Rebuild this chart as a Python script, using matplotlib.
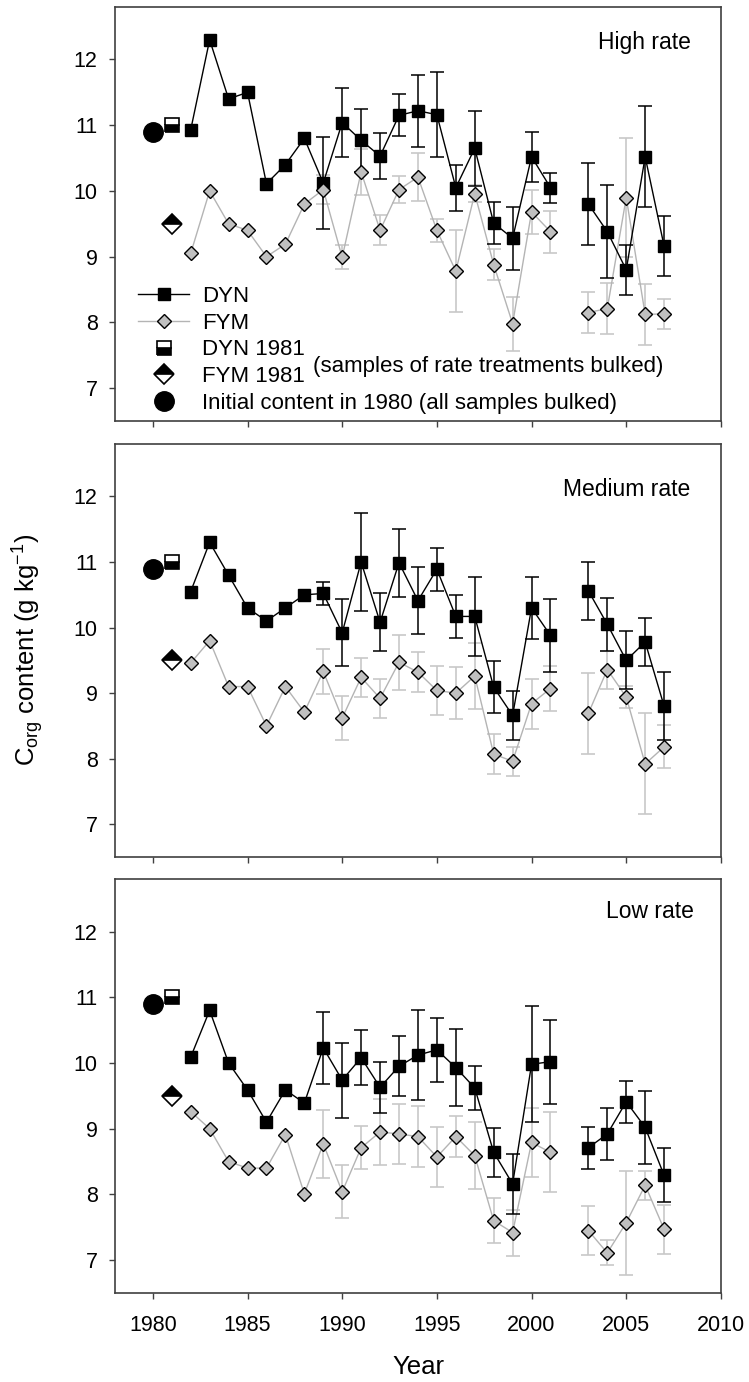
import numpy as np
import matplotlib
matplotlib.use('Agg')
import matplotlib.pyplot as plt
from matplotlib.lines import Line2D

plt.rcParams['font.family'] = ['Liberation Sans', 'DejaVu Sans']
plt.rcParams['mathtext.default'] = 'regular'

nan = np.nan

# sampling years (no sampling in 2002)
years = [1982, 1983, 1984, 1985, 1986, 1987, 1988, 1989, 1990, 1991, 1992, 1993, 1994,
         1995, 1996, 1997, 1998, 1999, 2000, 2001, 2002, 2003, 2004, 2005, 2006, 2007]

# bulked samples
initial_year = 1980
initial_corg = 10.9
bulk_year = 1981
dyn_1981 = 11.0
fym_1981 = 9.5

# High rate
high_dyn = [10.93, 12.30, 11.40, 11.50, 10.11, 10.40, 10.80, 10.12, 11.04, 10.77, 10.53, 11.15, 11.22,
            11.16, 10.05, 10.65, 9.51, 9.28, 10.52, 10.05, nan, 9.80, 9.38, 8.80, 10.52, 9.16]
high_dyn_sd = [nan, nan, nan, nan, nan, nan, nan, 0.70, 0.52, 0.48, 0.35, 0.32, 0.55,
               0.65, 0.35, 0.57, 0.32, 0.48, 0.38, 0.23, nan, 0.63, 0.71, 0.38, 0.77, 0.46]
high_fym = [9.05, 10.00, 9.50, 9.40, 9.00, 9.19, 9.80, 10.02, 8.99, 10.29, 9.40, 10.02, 10.21,
            9.40, 8.78, 9.96, 8.88, 7.98, 9.68, 9.38, nan, 8.15, 8.21, 9.90, 8.12, 8.13]
high_fym_sd = [nan, nan, nan, nan, nan, nan, nan, 0.22, 0.18, 0.35, 0.23, 0.21, 0.36,
               0.18, 0.62, 0.13, 0.24, 0.41, 0.33, 0.32, nan, 0.31, 0.39, 0.90, 0.46, 0.23]

# Medium rate
med_dyn = [10.55, 11.30, 10.80, 10.30, 10.10, 10.30, 10.50, 10.52, 9.92, 11.00, 10.08, 10.99, 10.41,
           10.89, 10.17, 10.17, 9.09, 8.66, 10.30, 9.88, nan, 10.56, 10.05, 9.50, 9.78, 8.80]
med_dyn_sd = [nan, nan, nan, nan, nan, nan, nan, 0.17, 0.51, 0.75, 0.44, 0.52, 0.51,
              0.33, 0.33, 0.60, 0.40, 0.37, 0.47, 0.56, nan, 0.44, 0.40, 0.44, 0.36, 0.52]
med_fym = [9.46, 9.80, 9.10, 9.10, 8.50, 9.10, 8.71, 9.33, 8.62, 9.24, 8.92, 9.47, 9.32,
           9.04, 9.00, 9.26, 8.07, 7.96, 8.84, 9.07, nan, 8.69, 9.36, 8.94, 7.92, 8.18]
med_fym_sd = [nan, nan, nan, nan, nan, nan, nan, 0.34, 0.33, 0.30, 0.30, 0.42, 0.30,
              0.38, 0.40, 0.50, 0.30, 0.22, 0.38, 0.34, nan, 0.62, 0.29, 0.17, 0.77, 0.33]

# Low rate
low_dyn = [10.09, 10.80, 10.00, 9.59, 9.10, 9.59, 9.39, 10.23, 9.74, 10.08, 9.63, 9.95, 10.12,
           10.20, 9.93, 9.62, 8.64, 8.16, 9.98, 10.02, nan, 8.71, 8.92, 9.41, 9.02, 8.29]
low_dyn_sd = [nan, nan, nan, nan, nan, nan, nan, 0.55, 0.57, 0.42, 0.39, 0.46, 0.68,
              0.49, 0.58, 0.34, 0.37, 0.46, 0.88, 0.64, nan, 0.32, 0.40, 0.32, 0.56, 0.41]
low_fym = [9.26, 9.00, 8.50, 8.40, 8.40, 8.91, 8.01, 8.77, 8.04, 8.71, 8.95, 8.92, 8.88,
           8.57, 8.88, 8.59, 7.60, 7.42, 8.79, 8.64, nan, 7.45, 7.11, 7.57, 8.14, 7.47]
low_fym_sd = [nan, nan, nan, nan, nan, nan, nan, 0.52, 0.40, 0.33, 0.50, 0.45, 0.46,
              0.46, 0.31, 0.51, 0.34, 0.35, 0.53, 0.61, nan, 0.37, 0.19, 0.79, 0.22, 0.37]

panels = [
    ('High rate', high_dyn, high_dyn_sd, high_fym, high_fym_sd),
    ('Medium rate', med_dyn, med_dyn_sd, med_fym, med_fym_sd),
    ('Low rate', low_dyn, low_dyn_sd, low_fym, low_fym_sd),
]

# axes boxes in figure fraction and panel label positions
boxes = [[0.1535, 0.6954, 0.809, 0.2996],
         [0.1535, 0.3799, 0.809, 0.2988],
         [0.1535, 0.0644, 0.809, 0.2996]]
label_pos = [(0.950, 0.913), (0.949, 0.889), (0.955, 0.921)]

GREY_LINE = '#b4b4b4'
GREY_ERR = '#c8c8c8'
GREY_FACE = '#c0c0c0'
SPINE = '#404040'

sq = dict(marker='s', ms=8.8, mfc='black', mec='black')
dia = dict(marker='D', ms=7.6, mfc=GREY_FACE, mec='black', mew=1.0)
half_sq = dict(marker='s', ms=9.5, fillstyle='bottom', mfc='black', mfcalt='white',
               mec='black', mew=1.2)
half_dia = dict(marker='D', ms=9.8, fillstyle='top', mfc='black', mfcalt='white',
                mec='black', mew=1.2)

fig = plt.figure(figsize=(7.49, 13.82), dpi=100)

for i, (name, dyn, dyn_sd, fym, fym_sd) in enumerate(panels):
    ax = fig.add_axes(boxes[i])

    ax.errorbar(years, fym, yerr=fym_sd, color=GREY_LINE, lw=1.0, ecolor=GREY_ERR,
                elinewidth=1.2, capsize=4.7, capthick=1.2, zorder=2)
    ax.errorbar(years, dyn, yerr=dyn_sd, color='black', lw=1.0, ecolor='black',
                elinewidth=1.1, capsize=4.7, capthick=1.1, zorder=3)
    ax.plot(years, dyn, ls='none', zorder=4, **sq)
    ax.plot(years, fym, ls='none', zorder=5, **dia)

    # bulked samples
    ax.plot([initial_year], [initial_corg], ls='none', marker='o', ms=14, color='black', zorder=6)
    ax.plot([bulk_year], [dyn_1981], ls='none', zorder=6, **half_sq)
    ax.plot([bulk_year], [fym_1981], ls='none', zorder=6, **half_dia)

    ax.set_xlim(1978, 2010)
    ax.set_ylim(6.5, 12.8)
    ax.set_xticks(range(1980, 2011, 5))
    ax.set_yticks(range(7, 13))
    ax.tick_params(direction='out', length=4.5, width=1.0, color=SPINE, labelsize=15.5)
    ax.tick_params(axis='y', pad=8)
    ax.tick_params(axis='x', pad=11)
    for s in ax.spines.values():
        s.set_color(SPINE)
        s.set_linewidth(1.2)

    ax.text(label_pos[i][0], label_pos[i][1], name, transform=ax.transAxes,
            ha='right', va='center', fontsize=16.5)

    if i < 2:
        ax.tick_params(axis='x', labelbottom=False)
    else:
        ax.set_xlabel('Year', fontsize=18.5, labelpad=14)

    if i == 0:
        handles = [
            Line2D([], [], color='black', lw=1.0, **sq),
            Line2D([], [], color=GREY_LINE, lw=1.0, **dia),
            Line2D([], [], ls='none', **half_sq),
            Line2D([], [], ls='none', **half_dia),
            Line2D([], [], ls='none', marker='o', ms=14, color='black'),
        ]
        labels = ['DYN', 'FYM', 'DYN 1981', 'FYM 1981',
                  'Initial content in 1980 (all samples bulked)']
        ax.legend(handles, labels, loc='center left', bbox_to_anchor=(0.038, 0.1715),
                  frameon=False, fontsize=16, numpoints=1, handlelength=2.3,
                  handletextpad=0.6, labelspacing=0.26, borderpad=0, borderaxespad=0)
        ax.text(1988.45, 7.33, '(samples of rate treatments bulked)', fontsize=16,
                ha='left', va='center')

fig.text(28 / 749, 0.5297, r'C$_{org}$ content (g kg$^{-1}$)', rotation=90,
         ha='center', va='center', fontsize=18.5)

fig.savefig('out.png', dpi=100)
